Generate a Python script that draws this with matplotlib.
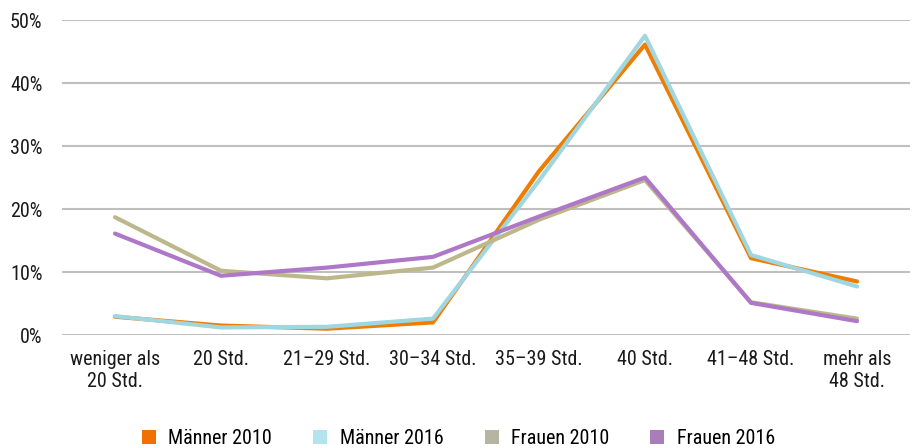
import matplotlib.pyplot as plt
from matplotlib.lines import Line2D

categories = ['weniger als\n20 Std.', '20 Std.', '21–29 Std.', '30–34 Std.',
              '35–39 Std.', '40 Std.', '41–48 Std.', 'mehr als\n48 Std.']

maenner_2010 = [2.9, 1.5, 1.0, 2.0, 26.0, 46.1, 12.2, 8.5]
maenner_2016 = [3.0, 1.2, 1.3, 2.6, 24.5, 47.5, 12.7, 7.7]
frauen_2010 = [18.7, 10.2, 9.0, 10.7, 18.3, 24.6, 5.2, 2.6]
frauen_2016 = [16.1, 9.4, 10.7, 12.4, 18.8, 25.0, 5.1, 2.2]

series = [
  ('Männer 2010', maenner_2010, '#ee7d00', '#f07000'),
  ('Männer 2016', maenner_2016, '#9fd6df', '#b3e3ec'),
  ('Frauen 2010', frauen_2010, '#bdb88c', '#b6b4a2'),
  ('Frauen 2016', frauen_2016, '#ae77c8', '#a87db8'),
]

plt.rcParams['font.family'] = ['Roboto Condensed', 'Liberation Sans Narrow', 'Liberation Sans']

fig = plt.figure(figsize=(9.14, 4.48), dpi=100)
ax = fig.add_axes([62 / 914, 113 / 448, 848 / 914, 315 / 448])

x = list(range(len(categories)))
handles = []
for label, values, color, legend_color in series:
  ax.plot(x, values, color=color, linewidth=3.0, solid_capstyle='round', zorder=3)
  handles.append(Line2D([], [], linestyle='none', marker='s', markersize=10,
                        markerfacecolor=legend_color, markeredgewidth=0, label=label))

ax.set_xlim(-0.5, len(categories) - 0.5)
ax.set_ylim(0, 50)
ax.set_yticks(range(0, 51, 10))
ax.set_yticklabels([f'{v}%' for v in range(0, 51, 10)])
ax.set_xticks(x)
ax.set_xticklabels(categories)
ax.grid(axis='y', color='#bfbfbf', linewidth=1.5, zorder=0)
ax.set_axisbelow(True)
for side in ['top', 'right', 'left', 'bottom']:
  ax.spines[side].set_visible(False)
ax.tick_params(axis='both', length=0, labelsize=14.5, colors='#1a1a1a')
ax.tick_params(axis='x', pad=11)
ax.tick_params(axis='y', pad=14)

fig.legend(handles=handles, loc='lower center', bbox_to_anchor=(0.5, -0.04),
           ncol=4, frameon=False, fontsize=14.5, handletextpad=0.45,
           columnspacing=1.9, handlelength=1.0)

fig.savefig('out.png', dpi=100)
